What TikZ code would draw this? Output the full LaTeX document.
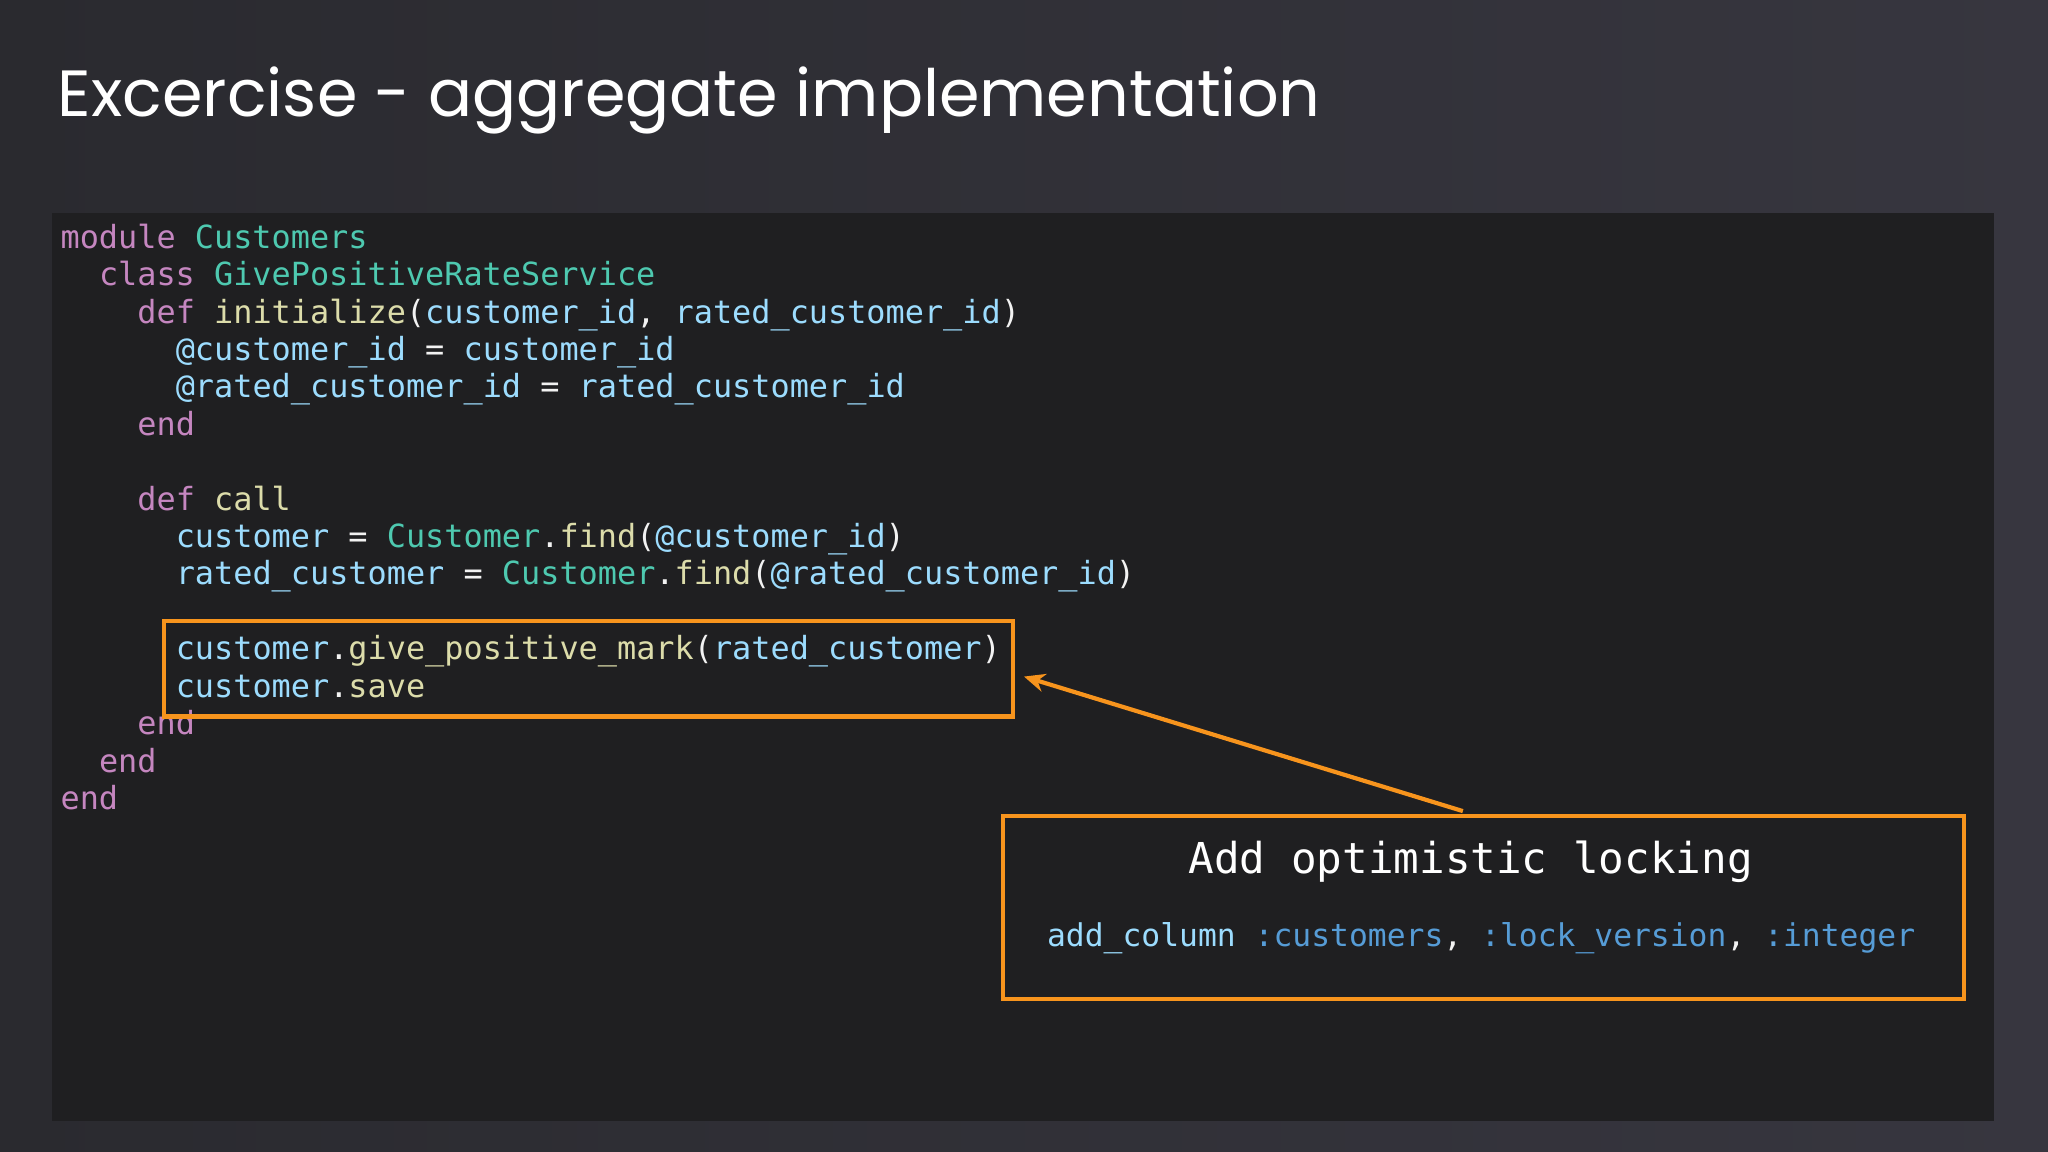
\documentclass[tikz,border=0pt]{standalone}
\usetikzlibrary{arrows.meta}
\usepackage{fontspec}
\newfontfamily\codefont{DejaVu Sans Mono}[Scale=1]
\newfontfamily\titlefont{Poppins}
\definecolor{bgA}{HTML}{2A2A2F}
\definecolor{bgB}{HTML}{37363F}
\definecolor{panel}{HTML}{1F1F21}
\definecolor{ckw}{HTML}{C586C0}
\definecolor{ccl}{HTML}{4EC9B0}
\definecolor{cfn}{HTML}{DCDCAA}
\definecolor{cvr}{HTML}{9CDCFE}
\definecolor{csym}{HTML}{569CD6}
\definecolor{cor}{HTML}{F7941D}
\newcommand\Kw[1]{\textcolor{ckw}{#1}}
\newcommand\Cl[1]{\textcolor{ccl}{#1}}
\newcommand\Fn[1]{\textcolor{cfn}{#1}}
\newcommand\Wh[1]{\textcolor{white!90!gray}{#1}}
\newcommand\Sy[1]{\textcolor{csym}{#1}}
\begin{document}
\begin{tikzpicture}[x=0.5pt,y=-0.5pt,
  codeline/.style={anchor=base west,inner sep=0pt,font=\codefont\fontsize{12.2pt}{14pt}\selectfont,text=cvr},
  hlbox/.style={draw=cor,line width=1.6pt},
]
\shade[left color=bgA,right color=bgB] (0,0) rectangle (1568,882);
\useasboundingbox (0,0) rectangle (1568,882);
\fill[panel] (40,163) rectangle (1527,858);
\node[anchor=base west,inner sep=0pt,text=white,font=\titlefont\fontsize{25pt}{30pt}\selectfont] (title) at (44,89) {Excercise - aggregate implementation};
\def\lx#1{46+14.7*#1}
\def\ly#1{190+28.65*#1}
\node[codeline] (l0) at ({\lx0},{\ly0}) {\Kw{module} \Cl{Customers}};
\node[codeline] (l1) at ({\lx2},{\ly1}) {\Kw{class} \Cl{GivePositiveRateService}};
\node[codeline] (l2) at ({\lx4},{\ly2}) {\Kw{def} \Fn{initialize}\Wh{(}customer\_id\Wh{,} rated\_customer\_id\Wh{)}};
\node[codeline] (l3) at ({\lx6},{\ly3}) {@customer\_id \Wh{=} customer\_id};
\node[codeline] (l4) at ({\lx6},{\ly4}) {@rated\_customer\_id \Wh{=} rated\_customer\_id};
\node[codeline] (l5) at ({\lx4},{\ly5}) {\Kw{end}};
\node[codeline] (l7) at ({\lx4},{\ly7}) {\Kw{def} \Fn{call}};
\node[codeline] (l8) at ({\lx6},{\ly8}) {customer \Wh{=} \Cl{Customer}\Wh{.}\Fn{find}\Wh{(}@customer\_id\Wh{)}};
\node[codeline] (l9) at ({\lx6},{\ly9}) {rated\_customer \Wh{=} \Cl{Customer}\Wh{.}\Fn{find}\Wh{(}@rated\_customer\_id\Wh{)}};
\node[codeline] (l11) at ({\lx6},{\ly{11}}) {customer\Wh{.}\Fn{give\_positive\_mark}\Wh{(}rated\_customer\Wh{)}};
\node[codeline] (l12) at ({\lx6},{\ly{12}}) {customer\Wh{.}\Fn{save}};
\node[codeline] (l13) at ({\lx4},{\ly{13}}) {\Kw{end}};
\node[codeline] (l14) at ({\lx2},{\ly{14}}) {\Kw{end}};
\node[codeline] (l15) at ({\lx0},{\ly{15}}) {\Kw{end}};
\node[hlbox,minimum width=325pt,minimum height=36.5pt,anchor=north west,inner sep=0pt] (hl) at (124,474) {};
\node[hlbox,minimum width=368pt,minimum height=70pt,anchor=north west,inner sep=0pt] (note) at (766,623) {};
\node[inner sep=0pt,text=white,font=\codefont\fontsize{16.3pt}{18pt}\selectfont] (notet) at (1126,660) {Add optimistic locking};
\node[inner sep=0pt,text=cvr,font=\codefont\fontsize{12pt}{14pt}\selectfont] (notec) at (1134,718) {add\_column \Sy{:customers}\Wh{,} \Sy{:lock\_version}\Wh{,} \Sy{:integer}};
\coordinate (tail) at (1120,621);
\coordinate (head) at (784,518);
\draw[cor,line width=1.6pt,-{Stealth[length=8pt,width=7pt]}] (tail) -- (head);
\end{tikzpicture}
\end{document}
